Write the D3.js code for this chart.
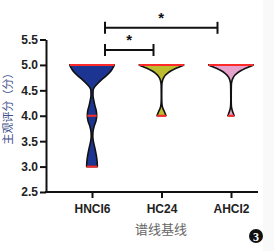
<!DOCTYPE html>
<html><head><meta charset="utf-8">
<script src="https://cdn.jsdelivr.net/npm/d3@7"></script>
<style>html,body{margin:0;padding:0;background:#fff;}svg{display:block;}</style>
</head><body>
<svg id="chart" width="274" height="251"></svg>
<script>
// ---- data ----
const categories = ["HNCI6", "HC24", "AHCI2"];
const fills = ["#1d3592", "#bcbc2c", "#e6a2cc"];
const yTicks = [2.5, 3.0, 3.5, 4.0, 4.5, 5.0, 5.5];
// violin profiles: score values and relative density (width)
const hnciValues = [3.0,3.1,3.2,3.3,3.4,3.5,3.6,3.7,3.8,3.9,4.0,4.1,4.2,4.3,4.4,4.5,4.55,4.6,4.65,4.7,4.75,4.8,4.85,4.9,4.95,5.0];
const hnciDensity = [0.24,0.23,0.2,0.16,0.11,0.06,0.035,0.05,0.1,0.18,0.21,0.19,0.13,0.08,0.045,0.05,0.09,0.18,0.29,0.41,0.54,0.67,0.79,0.88,0.95,1.0];
const hc24Values = [4.0,4.05,4.1,4.15,4.2,4.3,4.4,4.6,4.7,4.75,4.8,4.84,4.87,4.9,4.94,4.97,5.0];
const hc24Density = [0.2,0.16,0.11,0.06,0.03,0.012,0.01,0.015,0.05,0.1,0.18,0.28,0.38,0.5,0.68,0.85,1.0];
const ahciValues = [4.0,4.05,4.1,4.15,4.2,4.3,4.4,4.6,4.7,4.75,4.8,4.84,4.87,4.9,4.94,4.97,5.0];
const ahciDensity = [0.14,0.1,0.06,0.03,0.015,0.01,0.01,0.015,0.05,0.1,0.18,0.28,0.38,0.5,0.68,0.85,1.0];
// red lines (median / quartiles / extremes)
const hnciLines = [3.0, 4.0, 5.0];
const hc24Lines = [4.0, 5.0];
const ahciLines = [4.0, 5.0];
// significance comparisons
const comparisons = [
  {from: "HNCI6", to: "HC24", level: 5.293, label: "*"},
  {from: "HNCI6", to: "AHCI2", level: 5.73, label: "*"}
];
const yTitle = "主观评分（分）";
const xTitle = "谱线基线";

const violins = [
  {cat: categories[0], vals: hnciValues, dens: hnciDensity, lines: hnciLines, fill: fills[0]},
  {cat: categories[1], vals: hc24Values, dens: hc24Density, lines: hc24Lines, fill: fills[1]},
  {cat: categories[2], vals: ahciValues, dens: ahciDensity, lines: ahciLines, fill: fills[2]}
];

const svg = d3.select("#chart");
svg.append("rect").attr("x",263).attr("y",0).attr("width",11).attr("height",251).attr("fill","#f9f9f9");

const y = d3.scaleLinear().domain([2.5, 5.5]).range([192, 39.5]);
const x = d3.scalePoint().domain(categories).range([92, 231]);
const w = d3.scaleLinear().domain([0, 1]).range([0, 22.3]);

// violins
violins.forEach(v => {
  const pts = v.vals.map((val, i) => ({val, d: v.dens[i]}));
  const cx = x(v.cat);
  const area = d3.area()
    .y(p => y(p.val))
    .x0(p => cx - w(p.d))
    .x1(p => cx + w(p.d))
    .curve(d3.curveMonotoneY);
  svg.append("path").datum(pts).attr("d", area)
    .attr("fill", v.fill).attr("stroke", "#111").attr("stroke-width", 1.6)
    .attr("stroke-linejoin", "round");
  const interp = val => {
    for (let i = 0; i < v.vals.length; i++) if (Math.abs(v.vals[i]-val) < 1e-9) return v.dens[i];
    return 0.1;
  };
  v.lines.forEach(lv => {
    const hw = w(interp(lv));
    svg.append("line").attr("x1", cx - hw).attr("x2", cx + hw)
      .attr("y1", y(lv)).attr("y2", y(lv))
      .attr("stroke", "#ff2a2a").attr("stroke-width", 2);
  });
});

// axes
const yAxis = svg.append("g").attr("transform", "translate(46,0)")
  .call(d3.axisLeft(y).tickValues(yTicks).tickFormat(d3.format(".1f")).tickSize(6).tickSizeOuter(0).tickPadding(2));
const xAxis = svg.append("g").attr("transform", "translate(0,192)")
  .call(d3.axisBottom(x).tickSize(6).tickSizeOuter(0).tickPadding(6));
svg.append("line").attr("x1",45).attr("x2",258).attr("y1",192).attr("y2",192)
  .attr("stroke","#111").attr("stroke-width",2);
xAxis.select(".domain").remove();
[yAxis, xAxis].forEach(g => {
  g.selectAll(".domain,.tick line").attr("stroke", "#111").attr("stroke-width", 2);
  g.selectAll("text").attr("fill", "#222")
    .style("font-family", "'Liberation Sans', Arial, sans-serif")
    .style("font-weight", "bold").style("font-size", "12px");
});

// titles
svg.append("text").attr("x", 161).attr("y", 234).attr("text-anchor", "middle")
  .style("font-family", "'Noto Sans CJK SC', sans-serif").style("font-size", "13px")
  .attr("fill", "#666").text(xTitle);
svg.append("text").attr("transform", "translate(12,106) rotate(-90)").attr("text-anchor", "middle")
  .style("font-family", "'Noto Sans CJK SC', sans-serif").style("font-size", "11px")
  .attr("fill", "#3d4f8c").text(yTitle);

// significance brackets
comparisons.forEach(c => {
  const x1 = x(c.from) + 13;
  const x2 = c.to === "HC24" ? x(c.to) - 8 : x(c.to) - 13.5;
  const yy = y(c.level);
  const g = svg.append("g").attr("stroke", "#111").attr("stroke-width", 2);
  g.append("line").attr("x1", x1).attr("x2", x2).attr("y1", yy).attr("y2", yy);
  g.append("line").attr("x1", x1).attr("x2", x1).attr("y1", yy - 6).attr("y2", yy + 6);
  g.append("line").attr("x1", x2).attr("x2", x2).attr("y1", yy - 6).attr("y2", yy + 6);
  svg.append("text").attr("x", (x1 + x2) / 2).attr("y", yy - 5).attr("text-anchor", "middle")
    .style("font-family", "'Liberation Sans', Arial, sans-serif").style("font-weight", "bold")
    .style("font-size", "15px").attr("fill", "#111").text(c.label);
});

// panel number
svg.append("circle").attr("cx", 256).attr("cy", 236).attr("r", 7).attr("fill", "#111");
svg.append("text").attr("x", 256).attr("y", 240.5).attr("text-anchor", "middle")
  .style("font-family", "'Liberation Serif', serif").style("font-weight", "bold")
  .style("font-size", "12px").attr("fill", "#fff").text("3");
</script>
</body></html>
